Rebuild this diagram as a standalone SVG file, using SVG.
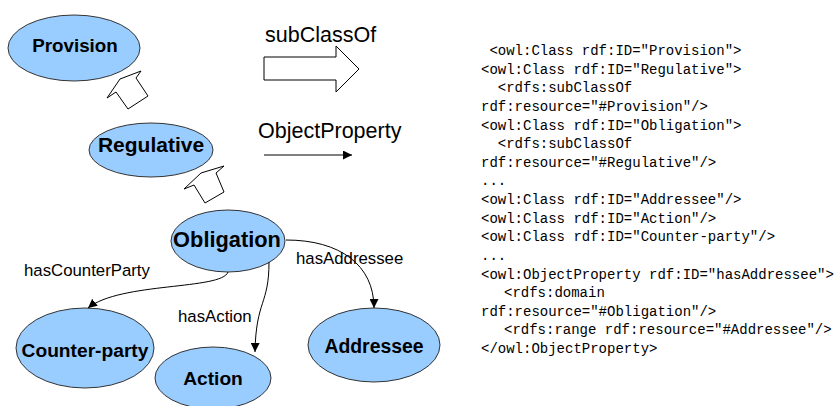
<svg xmlns="http://www.w3.org/2000/svg" width="837" height="406" viewBox="0 0 837 406">
  <style>
    .node { fill: #99ccff; stroke: #333333; stroke-width: 1; }
    .nlabel { font-family: "Liberation Sans", Arial, sans-serif; font-weight: bold; fill: #000; text-anchor: middle; }
    .elabel { font-family: "Liberation Sans", Arial, sans-serif; font-size: 16.8px; fill: #000; }
    .legend { font-family: "Liberation Sans", Arial, sans-serif; font-size: 21.5px; fill: #000; }
    .edge { fill: none; stroke: #000; stroke-width: 1; }
    .hollow { fill: #fff; stroke: #000; stroke-width: 1; stroke-linejoin: miter; }
    .code { font-family: "Liberation Mono", "Courier New", monospace; font-size: 14px; fill: #000; }
  </style>
  <defs>
    <marker id="arrow" viewBox="0 0 10 10" refX="10" refY="5" markerWidth="9" markerHeight="9" markerUnits="userSpaceOnUse" orient="auto">
      <path d="M0,0 L10,5 L0,10 z" fill="#000"/>
    </marker>
  </defs>

  <!-- class nodes -->
  <g id="provision">
    <ellipse class="node" cx="74" cy="48" rx="66" ry="33"/>
    <text class="nlabel" x="75" y="52" font-size="18.8">Provision</text>
  </g>
  <g id="regulative">
    <ellipse class="node" cx="151" cy="150" rx="62" ry="27"/>
    <text class="nlabel" x="151" y="152" font-size="21">Regulative</text>
  </g>
  <g id="obligation">
    <ellipse class="node" cx="228" cy="241" rx="57" ry="31"/>
    <text class="nlabel" x="227" y="247" font-size="21.8">Obligation</text>
  </g>
  <g id="counter-party">
    <ellipse class="node" cx="85" cy="348" rx="69" ry="40"/>
    <text class="nlabel" x="85" y="357" font-size="19.2">Counter-party</text>
  </g>
  <g id="action">
    <ellipse class="node" cx="213" cy="378" rx="58" ry="31"/>
    <text class="nlabel" x="213" y="385" font-size="19.2">Action</text>
  </g>
  <g id="addressee">
    <ellipse class="node" cx="374" cy="345" rx="66" ry="37"/>
    <text class="nlabel" x="374" y="353" font-size="19.4">Addressee</text>
  </g>

  <!-- connectors -->
  <g id="connectors">
    <!-- subClassOf block arrows -->
    <polygon class="hollow" points="107,98 120,79 141,71 136,78 148,96 128,109 116,92"/>
    <polygon class="hollow" points="184,189 201,173 224,166 216,173 224,192 205,203 194,185"/>
    <!-- object properties -->
    <path class="edge" d="M286,240 C340,240 374,265 374,308" marker-end="url(#arrow)"/>
    <path class="edge" d="M269,262 C269,305 256,300 255,352" marker-end="url(#arrow)"/>
    <path class="edge" d="M228,272 C222,290 120,282 88,308" marker-end="url(#arrow)"/>
    <text class="elabel" x="296" y="264">hasAddressee</text>
    <text class="elabel" x="178" y="322">hasAction</text>
    <text class="elabel" x="24" y="276">hasCounterParty</text>
  </g>

  <!-- legend -->
  <g id="legend">
    <text class="legend" x="265" y="42">subClassOf</text>
    <polygon class="hollow" points="264,57 336,57 336,46 359,69 336,92 336,80 264,80"/>
    <text class="legend" x="258" y="138">ObjectProperty</text>
    <path class="edge" d="M264,155 L352,155" marker-end="url(#arrow)"/>
  </g>

  <!-- OWL listing -->
  <g id="listing">
    <text class="code" x="489.4" y="55">&lt;owl:Class rdf:ID="Provision"&gt;</text>
    <text class="code" x="481" y="73.6">&lt;owl:Class rdf:ID="Regulative"&gt;</text>
    <text class="code" x="497.8" y="92.2">&lt;rdfs:subClassOf</text>
    <text class="code" x="481" y="110.9">rdf:resource="#Provision"/&gt;</text>
    <text class="code" x="481" y="129.5">&lt;owl:Class rdf:ID="Obligation"&gt;</text>
    <text class="code" x="497.8" y="148.1">&lt;rdfs:subClassOf</text>
    <text class="code" x="481" y="166.8">rdf:resource="#Regulative"/&gt;</text>
    <text class="code" x="481" y="185.4">...</text>
    <text class="code" x="481" y="204">&lt;owl:Class rdf:ID="Addressee"/&gt;</text>
    <text class="code" x="481" y="222.6">&lt;owl:Class rdf:ID="Action"/&gt;</text>
    <text class="code" x="481" y="241.3">&lt;owl:Class rdf:ID="Counter-party"/&gt;</text>
    <text class="code" x="481" y="259.9">...</text>
    <text class="code" x="481" y="278.5">&lt;owl:ObjectProperty rdf:ID="hasAddressee"&gt;</text>
    <text class="code" x="504" y="297.1">&lt;rdfs:domain</text>
    <text class="code" x="481" y="315.8">rdf:resource="#Obligation"/&gt;</text>
    <text class="code" x="504" y="334.4">&lt;rdfs:range rdf:resource="#Addressee"/&gt;</text>
    <text class="code" x="481" y="353">&lt;/owl:ObjectProperty&gt;</text>
  </g>
</svg>
